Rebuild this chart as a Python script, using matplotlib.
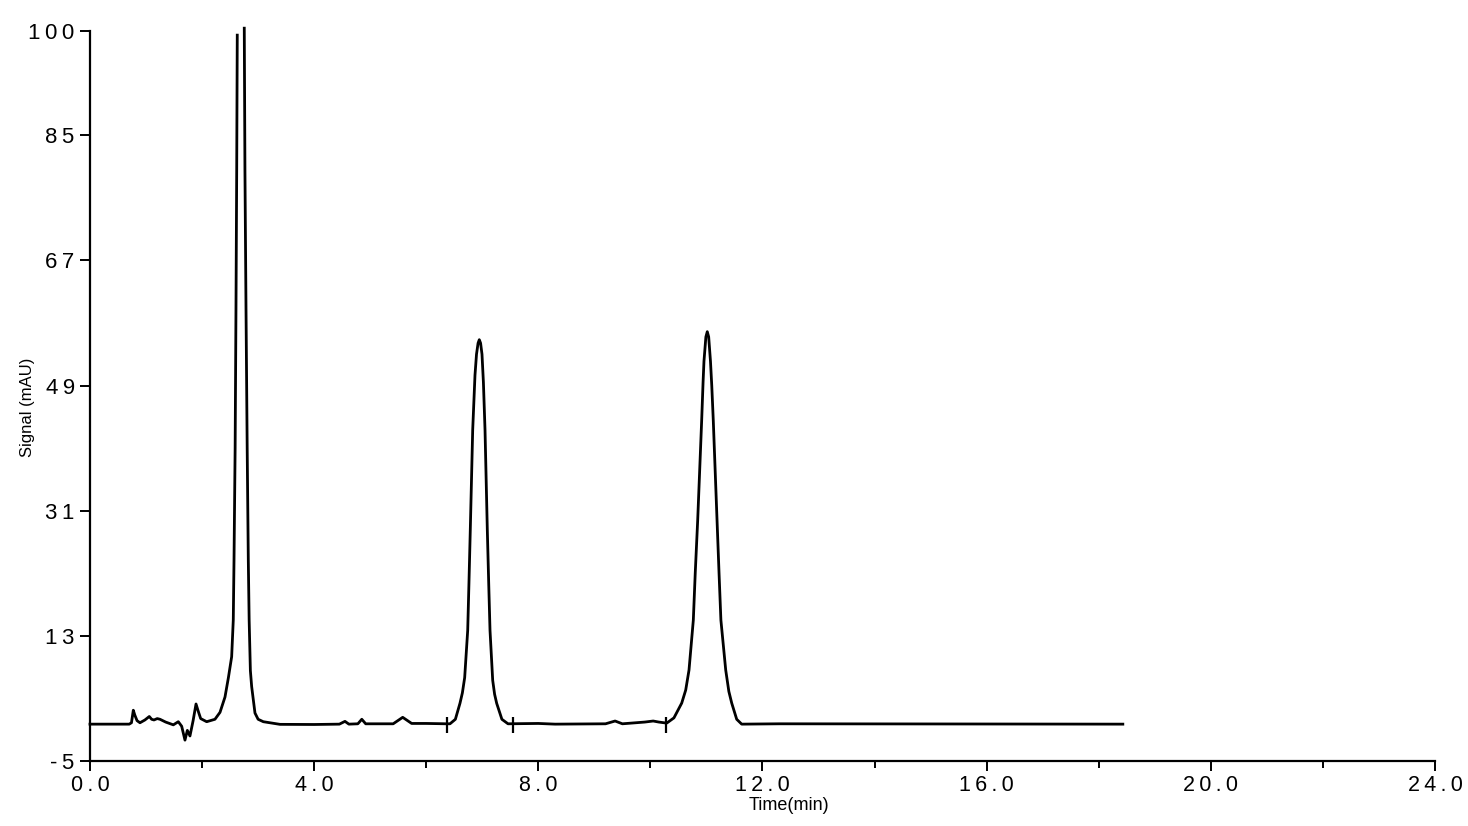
import numpy as np
import matplotlib.pyplot as plt
from matplotlib.ticker import MultipleLocator

plt.rcParams['font.family'] = ['Liberation Sans', 'DejaVu Sans']

# trace points (time in min, signal in mAU)
# NaN splits the main peak where it runs off the top of the plot
time_min = [0.0, 0.70, 0.74, 0.773, 0.80, 0.84, 0.892, 0.98, 1.058, 1.10,
            1.142, 1.20, 1.249, 1.35, 1.487, 1.576, 1.636, 1.695, 1.737, 1.784,
            1.84, 1.892, 1.93, 1.975, 2.082, 2.23, 2.32, 2.409, 2.47, 2.528,
            2.557, 2.570, 2.590, 2.605, 2.618, 2.628, np.nan,
            2.753, 2.765, 2.784, 2.805, 2.825, 2.84, 2.862, 2.885, 2.944,
            3.0, 3.093, 3.39, 4.0, 4.45, 4.55, 4.62, 4.78, 4.85, 4.92,
            5.41, 5.58, 5.74, 6.0, 6.365, 6.424, 6.52, 6.602, 6.645, 6.686,
            6.740, 6.762, 6.786, 6.829, 6.870, 6.897, 6.925, 6.947, 6.970, 6.995,
            7.020, 7.049, 7.090, 7.115, 7.138, 7.186, 7.220, 7.257, 7.35, 7.459,
            8.0, 8.3, 9.2, 9.37, 9.5, 9.9, 10.05, 10.15, 10.291, 10.42,
            10.559, 10.63, 10.689, 10.766, 10.80, 10.844, 10.915, 10.940, 10.956, 10.99,
            11.015, 11.04, 11.072, 11.095, 11.122, 11.189, 11.225, 11.258, 11.344, 11.40,
            11.451, 11.54, 11.629, 12.3, 18.43]
signal = [0.3, 0.3, 0.5, 2.3, 1.6, 0.8, 0.5, 0.9, 1.4, 1.0,
          0.9, 1.1, 1.0, 0.6, 0.2, 0.65, 0.0, -2.0, -0.6, -1.4,
          0.8, 3.2, 2.2, 1.1, 0.65, 1.0, 2.0, 4.2, 7.0, 10.0,
          15.3, 23.9, 40.0, 60.0, 80.0, 99.4, np.nan,
          100.4, 80.0, 60.0, 40.0, 23.9, 15.3, 8.0, 5.7, 1.9,
          1.0, 0.65, 0.27, 0.25, 0.3, 0.7, 0.3, 0.35, 1.0, 0.35,
          0.35, 1.28, 0.4, 0.4, 0.35, 0.35, 1.0, 3.3, 4.8, 7.0,
          13.8, 20.5, 28.2, 42.6, 50.5, 53.5, 55.1, 55.6, 55.1, 53.5,
          49.5, 42.6, 28.2, 20.5, 13.8, 6.6, 4.6, 3.3, 1.0, 0.35,
          0.4, 0.3, 0.35, 0.75, 0.35, 0.6, 0.75, 0.6, 0.45, 1.2,
          3.33, 5.2, 8.08, 15.27, 22.0, 29.66, 44.0, 49.5, 52.5, 56.0,
          56.75, 56.0, 52.5, 49.0, 44.0, 29.66, 22.0, 15.27, 8.08, 5.0,
          3.33, 1.0, 0.3, 0.35, 0.3]

# integration marks on the baseline
mark_times = [6.37, 7.55, 10.28]

y_ticks = [-5, 13, 31, 49, 67, 85, 100]
x_ticks = [0, 4, 8, 12, 16, 20, 24]


def spaced(s):
    # the original software draws tick labels with loose letter spacing
    return '\u2009'.join(s)


def main():
    fig = plt.figure(figsize=(14.68, 8.26), dpi=100)
    ax = fig.add_axes([0.0613, 0.0787, 0.9162, 0.8838])

    ax.plot(time_min, signal, color='black', lw=2.0, clip_on=False)
    ax.vlines(mark_times, -1.0, 1.3, color='black', lw=1.6)

    ax.set_xlim(0, 24)
    ax.set_ylim(-5, 100)
    ax.set_xticks(x_ticks)
    ax.set_xticklabels([spaced(f'{v:.1f}') for v in x_ticks])
    ax.xaxis.set_minor_locator(MultipleLocator(2))
    ax.set_yticks(y_ticks)
    ax.set_yticklabels([spaced(str(v)) for v in y_ticks])

    for s in ['top', 'right']:
        ax.spines[s].set_visible(False)
    for s in ['left', 'bottom']:
        ax.spines[s].set_linewidth(1.6)

    ax.tick_params(axis='both', which='major', direction='out', length=7,
                   width=1.4, pad=4)
    ax.tick_params(axis='y', labelsize=16)
    ax.tick_params(axis='x', labelsize=15.5, pad=3)
    ax.tick_params(axis='x', which='minor', direction='out', length=5, width=1.4)

    ax.set_xlabel('Time(min)', fontsize=13,
                  family=['Liberation Sans Narrow', 'Liberation Sans', 'DejaVu Sans'])
    ax.xaxis.set_label_coords(0.52, -0.050)
    ax.set_ylabel('Signal (mAU)', fontsize=12)
    ax.yaxis.set_label_coords(-0.041, 0.485)

    fig.savefig('out.png', dpi=100, facecolor='white')


if __name__ == "__main__":
    main()
